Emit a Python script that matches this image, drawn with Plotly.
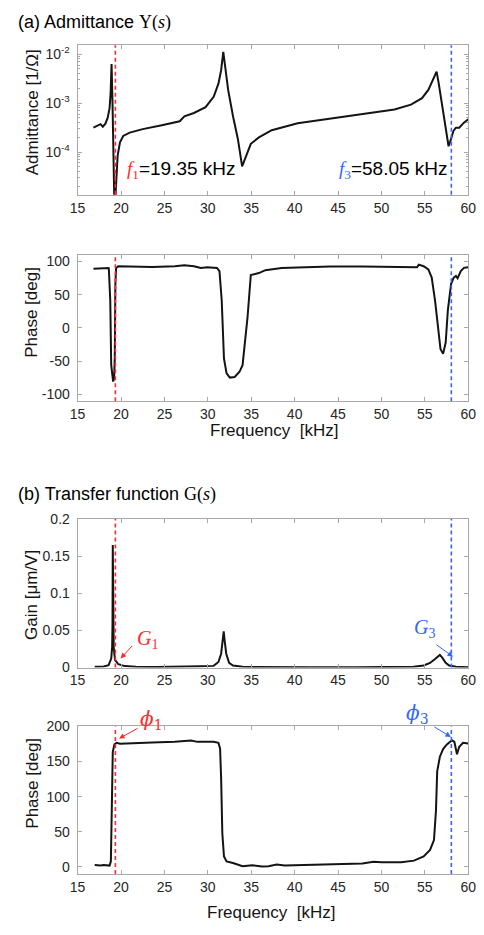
import plotly.graph_objects as go

W, H = 484, 935

# Marked frequencies [kHz]
F1 = 19.35
F3 = 58.05

# (a) Admittance magnitude |Y| [1/Ohm]
adm_freq = [16.82, 17.27, 17.64, 17.90, 18.20, 18.46, 18.68, 18.80, 18.91, 19.02,
            19.13, 19.28, 19.39, 19.50, 19.61, 19.88, 20.25, 21.0, 22.5, 24.7,
            26.76, 27.3, 28.4, 29.74, 30.67, 31.22, 31.53, 31.78, 32.05, 32.34,
            32.9, 33.46, 33.95, 34.4, 34.95, 35.88, 37.36, 40.35, 44.07, 47.8,
            51.5, 53.4, 54.67, 55.4, 55.98, 56.35, 56.6, 57.1, 57.46, 57.73,
            58.02, 58.29, 58.58, 58.96, 59.5, 60.0]
adm_mag = [3.16e-4, 3.39e-4, 3.72e-4, 3.31e-4, 3.80e-4, 5.0e-4, 7.9e-4, 1.58e-3, 6.3e-3, 1.0e-3,
           1.0e-4, 3e-6, 1.6e-5, 4.7e-5, 8.5e-5, 1.58e-4, 2.14e-4, 2.5e-4, 2.95e-4, 3.55e-4,
           4.27e-4, 5.37e-4, 6.3e-4, 8.3e-4, 1.35e-3, 2.5e-3, 4.7e-3, 1.12e-2, 4.7e-3, 1.86e-3,
           5.4e-4, 1.86e-4, 5.1e-5, 8.5e-5, 1.48e-4, 2.0e-4, 2.8e-4, 3.9e-4, 4.8e-4, 5.9e-4,
           7.4e-4, 9.3e-4, 1.26e-3, 1.86e-3, 3.16e-3, 4.4e-3, 2.5e-3, 6.3e-4, 2.5e-4, 1.32e-4,
           1.86e-4, 2.7e-4, 3.16e-4, 3.16e-4, 4.0e-4, 4.7e-4]
adm_ticks = [1e-4, 1e-3, 1e-2]
adm_ticktext = ["10<sup>-4</sup>", "10<sup>-3</sup>", "10<sup>-2</sup>"]

# (a) Admittance phase [deg]
adm_ph_freq = [16.82, 17.64, 18.0, 18.57, 18.6, 18.76, 18.87, 18.98, 19.09, 19.2,
               19.28, 19.35, 19.43, 19.69, 21.73, 23.6, 26.2, 27.3, 28.4, 29.2,
               29.93, 31.05, 31.34, 31.6, 31.86, 32.16, 32.53, 33.09, 33.65, 34.0,
               34.58, 34.95, 35.88, 36.63, 38.5, 40.35, 44.07, 47.8, 51.5, 54.1,
               54.3, 54.86, 55.4, 55.79, 56.17, 56.54, 56.8, 57.1, 57.4, 57.65,
               58.02, 58.32, 58.58, 58.77, 59.14, 59.5, 60.0]
adm_phase = [88.8, 89.0, 90.0, 90.0, 88.0, 41.0, -56.0, -76.0, -80.5, -76.0,
             -46.0, 66.0, 90.0, 92.7, 91.7, 91.7, 92.7, 94.1, 92.7, 90.2,
             91.2, 90.2, 85.4, 41.5, -46.3, -68.3, -74.6, -73.7, -65.9, -56.0,
             17.0, 79.5, 82.4, 86.8, 90.2, 91.2, 92.2, 92.2, 91.7, 91.2,
             95.1, 92.7, 87.8, 75.6, 41.5, -7.3, -31.7, -39.0, -22.0, 26.8,
             65.9, 75.6, 78.0, 74.6, 85.4, 90.2, 91.2]
adm_ph_ticks = [-100, -50, 0, 50, 100]

# (b) Transfer function gain [um/V]
gain_freq = [16.97, 18.0, 18.57, 18.87, 18.98, 19.02, 19.05, 19.08, 19.11, 19.16,
             19.32, 19.69, 20.43, 21.7, 24.0, 27.5, 29.2, 30.67, 31.22, 31.53,
             31.72, 31.83, 31.94, 32.12, 32.45, 32.9, 34.0, 37.0, 42.0, 47.0,
             52.0, 53.7, 54.86, 55.6, 56.17, 56.54, 56.73, 57.0, 57.4, 57.8,
             58.58, 60.0]
gain = [0.001, 0.0015, 0.0032, 0.0121, 0.028, 0.06, 0.165, 0.115, 0.04, 0.026,
        0.010, 0.0044, 0.0019, 0.0009, 0.0006, 0.0009, 0.0018, 0.0022, 0.0075, 0.0186,
        0.036, 0.0487, 0.036, 0.0186, 0.0062, 0.0027, 0.0009, 0.0005, 0.0005, 0.0005,
        0.0006, 0.0009, 0.0027, 0.0062, 0.0115, 0.0159, 0.0170, 0.0133, 0.0062, 0.0027,
        0.0009, 0.0004]
gain_ticks = [0, 0.05, 0.1, 0.15, 0.2]

# (b) Transfer function phase [deg]
tf_ph_freq = [16.97, 17.64, 18.0, 18.68, 18.83, 18.94, 19.05, 19.24, 19.5, 19.88,
              20.62, 23.6, 26.2, 28.06, 28.8, 30.67, 31.22, 31.41, 31.53, 31.67,
              31.86, 32.16, 32.9, 34.0, 35.13, 36.24, 36.99, 37.92, 38.86, 42.2,
              45.93, 47.8, 49.09, 50.03, 52.26, 53.75, 54.86, 55.6, 56.05, 56.28,
              56.42, 56.73, 57.1, 57.54, 58.13, 58.4, 58.7, 58.96, 59.4, 60.0]
tf_phase = [2.8, 1.9, 2.8, 1.9, 7.9, 103.5, 164.0, 174.4, 176.7, 175.3,
            175.8, 177.2, 178.1, 180.0, 178.1, 178.1, 176.7, 168.8, 126.8, 47.6,
            14.9, 7.9, 5.6, 0.9, 2.3, 0.5, 0.9, 3.3, 1.9, 2.8,
            4.2, 4.7, 7.5, 6.5, 6.5, 8.9, 14.9, 24.2, 38.2, 80.2,
            136.0, 157.0, 167.8, 174.4, 180.4, 178.1, 160.4, 171.1, 176.7, 175.8]
tf_ph_ticks = [0, 50, 100, 150, 200]

x_ticks = [15, 20, 25, 30, 35, 40, 45, 50, 55, 60]

SANS = "Liberation Sans, Arial, sans-serif"
SERIF = "Liberation Serif, DejaVu Serif, serif"
GREEK = "DejaVu Serif, serif"
RED = "#ff2a2a"
BLUE = "#3366ff"
INK = "#141414"
FRAME = "#a8a8a8"
TICKTXT = "#262626"


def px(x):
    return x / W


def py(y):
    return 1 - y / H


def fmt(v):
    # plain ASCII hyphen for negatives, no trailing zeros
    return f"{v:g}"


# plot boxes in pixels
X_LEFT, X_RIGHT = 72, 476
boxes = [(38, 190), (251, 400), (520, 671), (731, 881)]

fig = go.Figure()

curves = [
    (adm_freq, adm_mag),
    (adm_ph_freq, adm_phase),
    (gain_freq, gain),
    (tf_ph_freq, tf_phase),
]
for i, (xs, ys) in enumerate(curves, start=1):
    sfx = "" if i == 1 else str(i)
    fig.add_trace(go.Scatter(
        x=xs, y=ys, mode="lines",
        line=dict(color=INK, width=2),
        xaxis=f"x{sfx}", yaxis=f"y{sfx}",
        showlegend=False, hoverinfo="skip",
    ))

common_x = dict(
    range=[15, 60], tickvals=x_ticks, ticks="inside", ticklen=4,
    tickcolor=FRAME, showline=True, linecolor=FRAME, linewidth=1,
    mirror="ticks", showgrid=False, zeroline=False,
    tickfont=dict(family=SANS, size=14, color=TICKTXT),
    domain=[px(X_LEFT), px(X_RIGHT)],
)
common_y = dict(
    ticks="inside", ticklen=4, tickcolor=FRAME, showline=True,
    linecolor=FRAME, linewidth=1, mirror="ticks", showgrid=False,
    zeroline=False, tickfont=dict(family=SANS, size=14, color=TICKTXT),
    ticklabelstandoff=4,
)

y_specs = [
    dict(type="log", range=[-4.87, -1.82], tickvals=adm_ticks, ticktext=adm_ticktext,
         minor=dict(ticks="inside", ticklen=2, tickcolor=FRAME, showgrid=False,
                    dtick="D1")),
    dict(range=[-110, 110], tickvals=adm_ph_ticks,
         ticktext=[fmt(v) for v in adm_ph_ticks]),
    dict(range=[0, 0.2], tickvals=gain_ticks, ticktext=[fmt(v) for v in gain_ticks]),
    dict(range=[-10, 200], tickvals=tf_ph_ticks, ticktext=[fmt(v) for v in tf_ph_ticks]),
]
layout_axes = {}
for i, ((top, bot), ys) in enumerate(zip(boxes, y_specs), start=1):
    sfx = "" if i == 1 else str(i)
    layout_axes[f"xaxis{sfx}"] = dict(common_x, anchor=f"y{sfx}")
    layout_axes[f"yaxis{sfx}"] = dict(common_y, anchor=f"x{sfx}",
                                      domain=[py(bot), py(top)], **ys)

fig.update_layout(
    width=W, height=H, margin=dict(l=0, r=0, t=0, b=0),
    paper_bgcolor="white", plot_bgcolor="white",
    font=dict(family=SANS, color="black"),
    **layout_axes,
)

# Dashed markers at f1 and f3 in every panel
for i in range(1, 5):
    sfx = "" if i == 1 else str(i)
    for f, col in ((F1, RED), (F3, BLUE)):
        fig.add_shape(type="line", xref=f"x{sfx}", yref=f"y{sfx} domain",
                      x0=f, x1=f, y0=0, y1=1,
                      line=dict(color=col, width=1.6, dash="4px,3px"))

ann = []

# Panel titles
ann.append(dict(
    x=px(8), y=py(15), xref="paper", yref="paper", xanchor="left", yanchor="middle",
    text=f'(a) Admittance <span style="font-family:{SERIF}">Y(<i>s</i>)</span>',
    font=dict(family=SANS, size=18, color="black"), showarrow=False))
ann.append(dict(
    x=px(8), y=py(495), xref="paper", yref="paper", xanchor="left", yanchor="middle",
    text=f'(b) Transfer function <span style="font-family:{SERIF}">G(<i>s</i>)</span>',
    font=dict(family=SANS, size=18, color="black"), showarrow=False))

# Axis titles
for text, ycen in (("Admittance [1/Ω]", 106), ("Phase [deg]", 310),
                   ("Gain [μm/V]", 597), ("Phase [deg]", 789)):
    ann.append(dict(x=px(25), y=py(ycen), xref="paper", yref="paper",
                    xanchor="center", yanchor="middle", textangle=-90,
                    text=text, font=dict(family=SANS, size=17, color=INK),
                    showarrow=False))
for xcen, ycen in ((276, 430), (272, 920)):
    ann.append(dict(x=px(xcen), y=py(ycen), xref="paper", yref="paper",
                    xanchor="center", yanchor="middle",
                    text="Frequency  [kHz]", font=dict(family=SANS, size=17, color=INK),
                    showarrow=False))

# Frequency labels in the admittance panel
ann.append(dict(
    x=px(121), y=py(165), xref="paper", yref="paper", xanchor="left", yanchor="middle",
    text=(f'<span style="font-family:{SERIF};color:{RED}"><i>f</i><sub>1</sub></span>'
          f'={F1:.2f} kHz'),
    font=dict(family=SANS, size=19, color="black"), showarrow=False))
ann.append(dict(
    x=px(457), y=py(165), xref="paper", yref="paper", xanchor="right", yanchor="middle",
    text=(f'<span style="font-family:{SERIF};color:{BLUE}"><i>f</i><sub>3</sub></span>'
          f'={F3:.2f} kHz'),
    font=dict(family=SANS, size=19, color="black"), showarrow=False))

# Symbol labels with pointer arrows in the transfer-function panels
labels = [
    ("<i>G</i><sub>1</sub>", SERIF, RED, 144, 642),
    ("<i>G</i><sub>3</sub>", SERIF, BLUE, 431, 631),
    ("<i>ϕ</i><sub>1</sub>", GREEK, RED, 148, 724),
    ("<i>ϕ</i><sub>3</sub>", GREEK, BLUE, 423, 718),
]
for text, fam, col, xc, yc in labels:
    ann.append(dict(x=px(xc), y=py(yc), xref="paper", yref="paper",
                    xanchor="center", yanchor="middle", text=text,
                    font=dict(family=fam, size=20, color=col), showarrow=False))

arrows = [
    ("x3", "y3", 19.95, 0.0123, 13, -14, RED),
    ("x3", "y3", 58.24, 0.0146, -18, -13, BLUE),
    ("x4", "y4", 19.77, 182.8, 20, -11, RED),
    ("x4", "y4", 58.0, 185.0, -18, -11, BLUE),
]
for xr, yr, xh, yh, ax, ay, col in arrows:
    ann.append(dict(x=xh, y=yh, xref=xr, yref=yr, ax=ax, ay=ay,
                    axref="pixel", ayref="pixel", text="", showarrow=True,
                    arrowhead=2, arrowsize=1.1, arrowwidth=1, arrowcolor=col,
                    standoff=0, startstandoff=0))

fig.update_layout(annotations=ann)

fig.write_html("out.html")
